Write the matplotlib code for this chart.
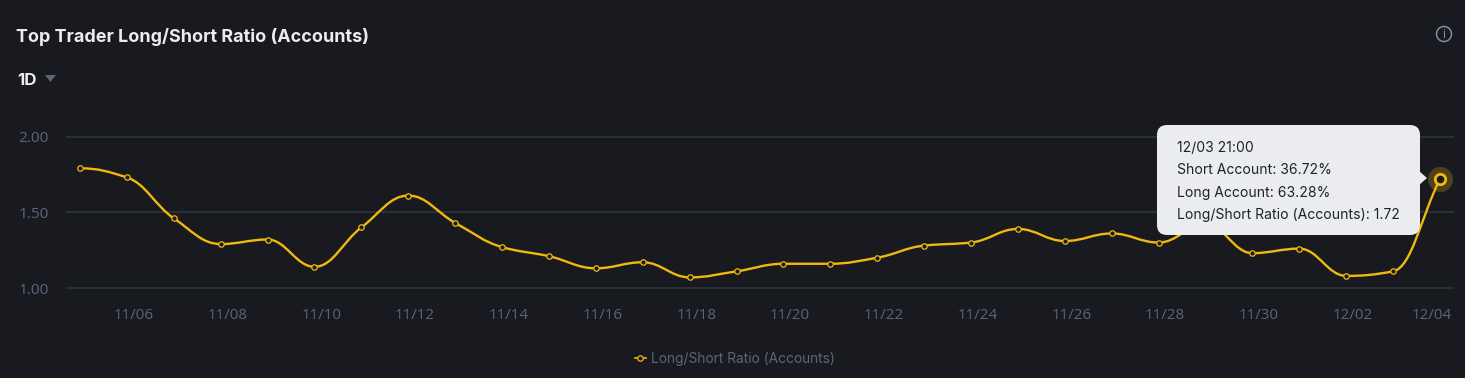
import matplotlib
matplotlib.use("Agg")
import matplotlib.pyplot as plt
from matplotlib.patches import Circle, FancyBboxPatch, PathPatch, Polygon
from matplotlib.path import Path
import numpy as np

plt.rcParams['font.family'] = ['Inter', 'DejaVu Sans']

ratio = [1.79, 1.73, 1.46, 1.29, 1.32, 1.14, 1.40, 1.61, 1.43, 1.27,
         1.21, 1.13, 1.17, 1.07, 1.11, 1.16, 1.16, 1.20, 1.28, 1.30,
         1.39, 1.31, 1.36, 1.30, 1.42, 1.23, 1.26, 1.08, 1.11, 1.72]
tick_pos = [1.15, 3.15, 5.15, 7.14, 9.14, 11.14, 13.15, 15.13, 17.13, 19.14,
            21.15, 23.13, 25.13, 27.14, 28.83]
tick_labels = ['11/06', '11/08', '11/10', '11/12', '11/14', '11/16', '11/18', '11/20',
               '11/22', '11/24', '11/26', '11/28', '11/30', '12/02', '12/04']
y_ticks = [1.0, 1.5, 2.0]
tooltip_lines = ['12/03 21:00', 'Short Account: 36.72%', 'Long Account: 63.28%',
                 'Long/Short Ratio (Accounts): 1.72']

BG = '#181A20'
GRID = '#2B3139'
YELLOW = '#F0B90B'
MUTED = '#5A6578'
LIGHT = '#EAECEF'
W, H = 1465, 378

fig = plt.figure(figsize=(W/100, H/100), dpi=100, facecolor=BG)
ax = fig.add_axes([67/W, 1-288/H, (1453-67)/W, (288-136.5)/H], facecolor=BG)

x = np.arange(len(ratio))
y = np.array(ratio)

# Smooth curve as bezier segments, monotone tangents so it never overshoots a point
slopes = np.zeros(len(y))
for i in range(1, len(y)-1):
    d0, d1 = y[i]-y[i-1], y[i+1]-y[i]
    if d0*d1 > 0:
        slopes[i] = 2*d0*d1/(d0+d1)
slopes[-1] = y[-1]-y[-2]
verts = [(x[0], y[0])]
codes = [Path.MOVETO]
for i in range(len(y)-1):
    verts += [(x[i]+0.4, y[i]+0.4*slopes[i]), (x[i+1]-0.4, y[i+1]-0.4*slopes[i+1]), (x[i+1], y[i+1])]
    codes += [Path.CURVE4]*3
ax.add_patch(PathPatch(Path(verts, codes), fill=False, edgecolor=YELLOW, lw=1.7, zorder=3))

ax.plot(x, y, ls='none', marker='o', ms=3.9, mfc=BG, mec=YELLOW, mew=0.9, zorder=4)
# Hovered point
ax.plot(x[-1], y[-1], ls='none', marker='o', ms=18, mfc=YELLOW, mec='none', alpha=0.25, zorder=4)
ax.plot(x[-1], y[-1], ls='none', marker='o', ms=7.5, mfc=BG, mec=YELLOW, mew=2, zorder=5)

ax.set_xlim((67-80)/46.897, (1453-80)/46.897)
ax.set_ylim(1, 2)
ax.set_yticks(y_ticks)
ax.set_yticklabels(['%.2f' % v for v in y_ticks], family=['Open Sans', 'DejaVu Sans'])
ax.set_xticks(tick_pos)
ax.set_xticklabels(tick_labels, family=['Open Sans', 'DejaVu Sans'])
ax.tick_params(axis='x', length=0, pad=14.5, labelsize=10.9, labelcolor=MUTED)
ax.tick_params(axis='y', length=0, pad=13, labelsize=11.1, labelcolor=MUTED)
ax.grid(axis='y', color=GRID, lw=1.4, zorder=1)
ax.grid(axis='x', visible=False)
for s in ax.spines.values():
    s.set_visible(False)
for art in ax.patches + ax.lines:
    art.set_clip_on(False)
for art in ax.get_ygridlines():
    art.set_clip_on(False)

# Legend entry
handle, = ax.plot([], [], color=YELLOW, lw=1.2, marker='o', ms=3.9, mfc=BG, mec=YELLOW, mew=0.9,
                  label='Long/Short Ratio (Accounts)')
fig.legend(handles=[handle], loc='center', bbox_to_anchor=(735/W, 1-358.5/H), frameon=False,
           handlelength=0.8, handletextpad=0.4, labelcolor=MUTED, fontsize=9.9)

# Page furniture and tooltip in pixel coordinates
over = fig.add_axes([0, 0, 1, 1], facecolor='none')
over.set_xlim(0, W)
over.set_ylim(H, 0)
over.axis('off')

over.text(16, 36.5, 'Top Trader Long/Short Ratio (Accounts)', color=LIGHT, fontsize=12.95,
          fontweight='bold', va='center', ha='left')
over.text(17, 80.5, '1D', color=LIGHT, fontsize=12.2, fontweight='bold', va='center', ha='left')
over.add_patch(Polygon([(45, 75), (56, 75), (50.5, 82)], closed=True, fc=MUTED, ec='none'))

over.add_patch(Circle((1444, 34), 7.5, fc='none', ec='#848E9C', lw=1.1))
over.text(1444, 34.5, 'i', color='#848E9C', fontsize=8.5, ha='center', va='center')

over.add_patch(FancyBboxPatch((1167, 135), 243, 90, boxstyle='round,pad=10,rounding_size=10',
                              fc=LIGHT, ec='none', zorder=6))
over.add_patch(Polygon([(1419, 171), (1427, 178), (1419, 185)], closed=True, fc=LIGHT, ec='none', zorder=6))
for i, line in enumerate(tooltip_lines):
    over.text(1177, 147.5+22.5*i, line, color='#1E2329', fontsize=10.05, va='center', ha='left', zorder=7)

fig.savefig('out.png', dpi=100, facecolor=BG)
